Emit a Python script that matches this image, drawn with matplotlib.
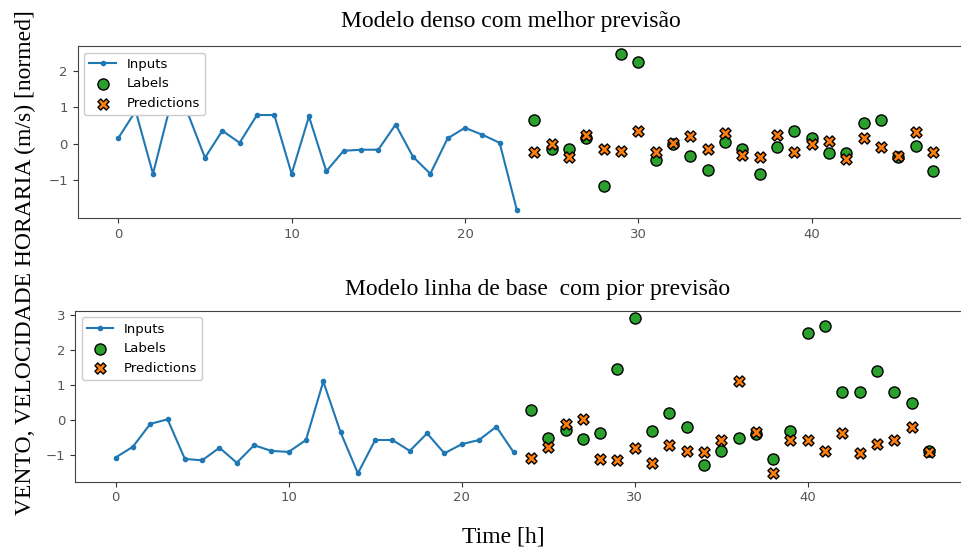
import matplotlib
matplotlib.use('Agg')
import matplotlib.pyplot as plt
import numpy as np

# time steps
input_steps = np.arange(0, 24)
label_steps = np.arange(24, 48)

# --- top panel: dense model ---
dense_inputs = [0.16, 0.90, -0.82, 1.05, 0.85, -0.38, 0.36, 0.03, 0.79, 0.79,
                -0.82, 0.75, -0.75, -0.19, -0.16, -0.16, 0.53, -0.35, -0.82, 0.15,
                0.44, 0.25, 0.03, -1.82]
dense_labels = [0.65, -0.14, -0.15, 0.15, -1.15, 2.47, 2.25, -0.43, 0.00, -0.34,
                -0.71, 0.05, -0.14, -0.82, -0.09, 0.36, 0.15, -0.26, -0.25, 0.57,
                0.65, -0.35, -0.05, -0.75]
dense_preds = [-0.23, 0.00, -0.35, 0.23, -0.15, -0.20, 0.36, -0.21, 0.03, 0.21,
               -0.15, 0.29, -0.30, -0.35, 0.23, -0.23, -0.01, 0.07, -0.41, 0.16,
               -0.08, -0.34, 0.32, -0.23]

# --- bottom panel: baseline (repeat) model ---
base_inputs = [-1.07, -0.76, -0.11, 0.02, -1.11, -1.15, -0.79, -1.22, -0.72, -0.88,
               -0.91, -0.57, 1.10, -0.35, -1.52, -0.57, -0.57, -0.88, -0.38, -0.95,
               -0.69, -0.57, -0.19, -0.92]
base_labels = [0.30, -0.50, -0.29, -0.53, -0.38, 1.46, 2.90, -0.30, 0.19, -0.19,
               -1.27, -0.89, -0.52, -0.41, -1.11, -0.30, 2.48, 2.69, 0.81, 0.81,
               1.41, 0.81, 0.50, -0.88]
base_preds = [-1.08, -0.76, -0.11, 0.02, -1.11, -1.15, -0.79, -1.22, -0.72, -0.88,
              -0.91, -0.57, 1.10, -0.35, -1.52, -0.57, -0.57, -0.88, -0.38, -0.95,
              -0.69, -0.57, -0.19, -0.92]

titles = ['Modelo denso com melhor previsão', 'Modelo linha de base  com pior previsão']

W, H = 962, 548
fig = plt.figure(figsize=(W / 100, H / 100), dpi=100)

def px_axes(left, top, right, bottom):
    return fig.add_axes([left / W, 1 - bottom / H, (right - left) / W, (bottom - top) / H])

ax1 = px_axes(77.6, 46, 973.6, 218)
ax2 = px_axes(75, 310.7, 969.5, 481.7)

panels = [(ax1, dense_inputs, dense_labels, dense_preds),
          (ax2, base_inputs, base_labels, base_preds)]

for ax, inp, lab, pred in panels:
    ax.plot(input_steps, inp, label='Inputs', marker='.', zorder=-10, color='#1f77b4')
    ax.scatter(label_steps, lab, edgecolors='k', label='Labels', c='#2ca02c', s=64)
    ax.scatter(label_steps, pred, marker='X', edgecolors='k', label='Predictions',
               c='#ff7f0e', s=64)
    ax.legend(loc='upper left', fontsize=9.5, framealpha=1.0)
    ax.set_xlim(-2.35, 49.35)
    ax.set_xticks([0, 10, 20, 30, 40])
    ax.tick_params(labelsize=9.5, colors='#333333', labelcolor='#555555')
    for s in ax.spines.values():
        s.set_color('#444444')
    ax.spines['right'].set_visible(False)

ax1.set_ylim(-2.03, 2.68)
ax1.set_yticks([-1, 0, 1, 2])
ax2.set_ylim(-1.76, 3.12)
ax2.set_yticks([-1, 0, 1, 2, 3])

# titles placed as in the source figure
fig.text(511 / W, 1 - 22 / H, titles[0], va='center', ha='center',
         family='Liberation Serif', fontsize=17)
fig.text(538 / W, 1 - 289 / H, titles[1], va='center', ha='center',
         family='Liberation Serif', fontsize=17)

fig.text(25 / W, 1 - 263 / H, 'VENTO, VELOCIDADE HORARIA (m/s) [normed]',
         rotation=90, va='center', ha='center', family='Liberation Serif', fontsize=17)
fig.text(503 / W, 1 - 537 / H, 'Time [h]', va='center', ha='center',
         family='Liberation Serif', fontsize=17)

fig.savefig('out.png', dpi=100)
